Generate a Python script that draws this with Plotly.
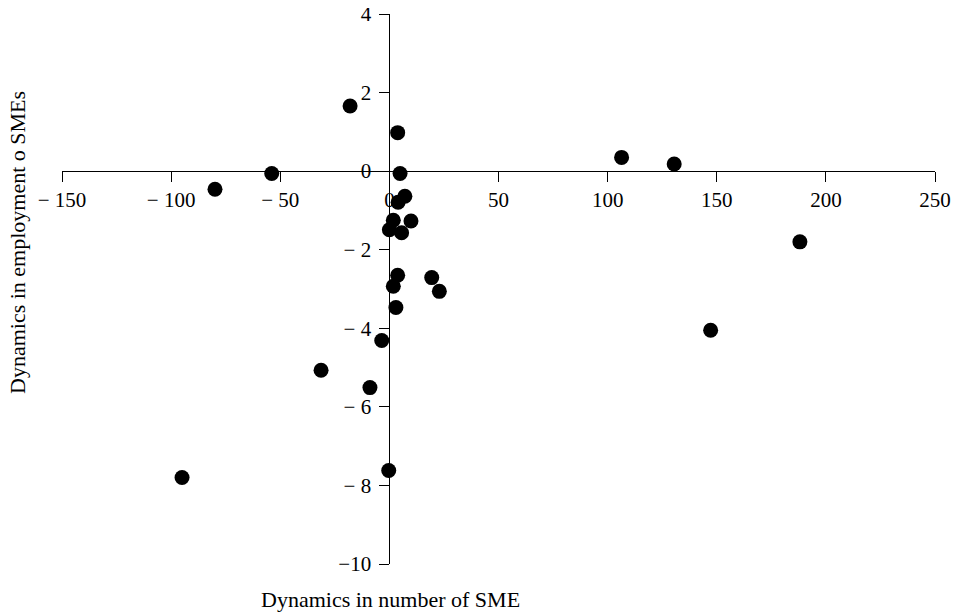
import plotly.graph_objects as go

# Data
sme_number = [-18.0, 3.8, 4.9, 4.0, 7.1, 1.8, 9.9, 0.0, 5.6, 3.8, 1.8, 19.4, 22.9, 3.0,
              -3.5, -31.3, -8.9, -0.3, -95.0, -79.9, -53.9, 106.4, 130.5, 188.1, 147.2]
sme_employment = [1.66, 0.98, -0.06, -0.79, -0.64, -1.25, -1.27, -1.49, -1.57, -2.65, -2.93,
                  -2.71, -3.06, -3.47, -4.31, -5.07, -5.51, -7.62, -7.80, -0.46, -0.06,
                  0.35, 0.18, -1.80, -4.05]

x_tickvals = [-150, -100, -50, 0, 50, 100, 150, 200, 250]
x_ticktext = ["\u2212 150", "\u2212 100", "\u2212 50", "0", "50", "100", "150", "200", "250"]
y_tickvals = [4, 2, 0, -2, -4, -6, -8, -10]
y_ticktext = ["4", "2", "0", "\u2212 2", "\u2212 4", "\u2212 6", "\u2212 8", "\u221210"]

x_range = [-150, 250]
y_range = [-10, 4]

font_family = "Liberation Serif, Times New Roman, serif"

# page body has an 8px margin; size the figure so it ends at the window edge
W, H = 956, 606
L, T = 54, 6
PW, PH = 873, 550
R, B = W - L - PW, H - T - PH

fig = go.Figure()
fig.add_trace(go.Scatter(
    x=sme_number, y=sme_employment, mode="markers",
    marker=dict(color="black", size=15, line=dict(width=0)),
    showlegend=False, hoverinfo="skip",
))

def paper_xy(wx, wy):
    # window pixel -> paper coords
    dx, dy = wx - 8, wy - 8
    return (dx - L) / PW, 1 - (dy - T) / PH

tx, ty = paper_xy(390, 599)
yx, yy = paper_xy(17, 243)

fig.update_layout(
    template="none",
    width=W, height=H,
    margin=dict(l=L, r=R, t=T, b=B, pad=0),
    paper_bgcolor="white", plot_bgcolor="white",
    font=dict(family=font_family, size=21, color="black"),
    xaxis=dict(
        range=x_range, anchor="free", automargin=False,
        position=(0 - y_range[0]) / (y_range[1] - y_range[0]),
        tickvals=x_tickvals, ticktext=x_ticktext,
        showgrid=False, zeroline=False, showline=True, linecolor="black", linewidth=1,
        ticks="outside", ticklen=10, tickcolor="black", tickwidth=1,
        ticklabeloverflow="allow",
        layer="below traces",
    ),
    yaxis=dict(
        range=y_range, anchor="free", automargin=False,
        position=(0 - x_range[0]) / (x_range[1] - x_range[0]),
        tickvals=y_tickvals, ticktext=y_ticktext,
        showgrid=False, zeroline=False, showline=True, linecolor="black", linewidth=1,
        ticks="outside", ticklen=10, tickcolor="black", tickwidth=1,
        ticklabelstandoff=4, ticklabeloverflow="allow",
        layer="below traces",
    ),
    annotations=[
        dict(text="Dynamics in number of SME", x=tx, y=ty, xref="paper", yref="paper",
             xanchor="center", yanchor="middle", showarrow=False, font=dict(size=22)),
        dict(text="Dynamics in employment o SMEs", x=yx, y=yy, xref="paper", yref="paper",
             xanchor="center", yanchor="middle", textangle=-90,
             showarrow=False, font=dict(size=22)),
    ],
)

fig.write_html("out.html")
